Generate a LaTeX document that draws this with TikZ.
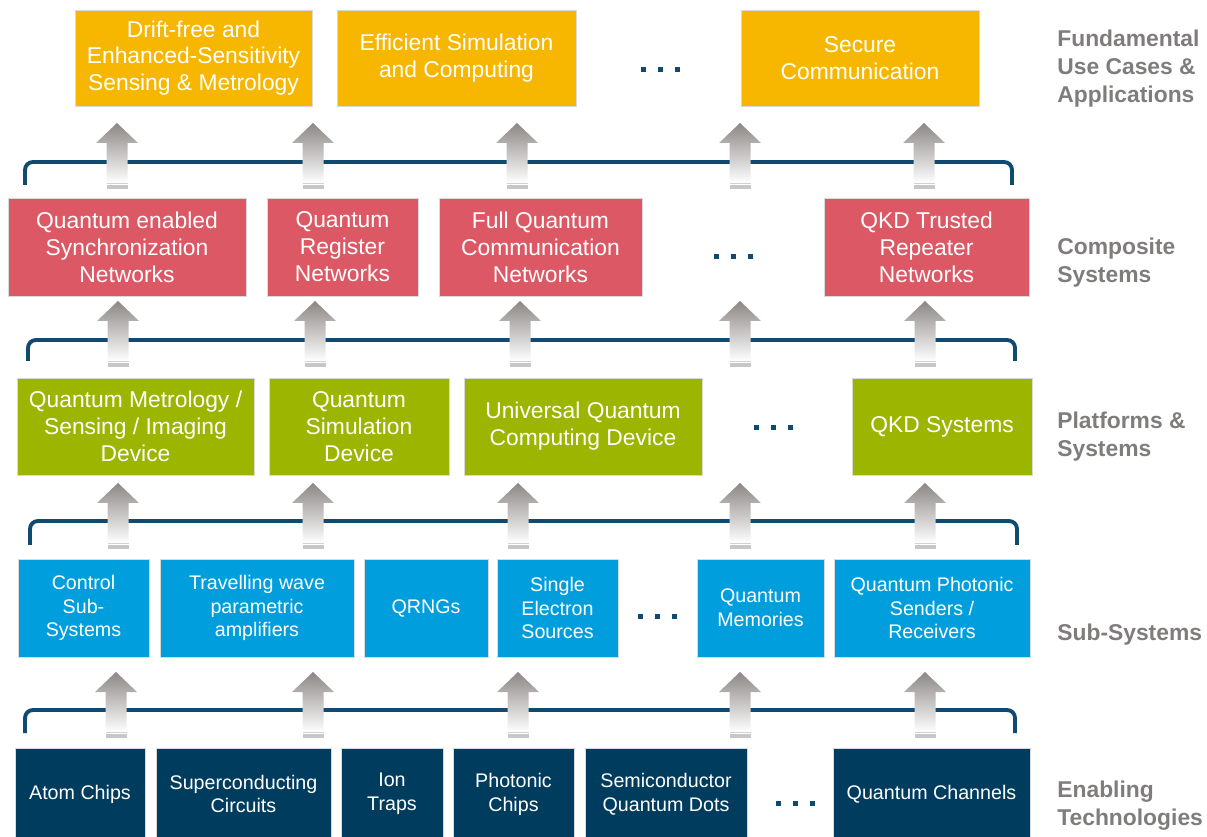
\documentclass[tikz,border=0pt]{standalone}
\usepackage{fontspec}
\setmainfont{Liberation Sans}
\usepackage{tikz}

\definecolor{usecaseorange}{RGB}{247,182,0}
\definecolor{compositered}{RGB}{219,88,100}
\definecolor{platformgreen}{RGB}{155,181,0}
\definecolor{subsysblue}{RGB}{0,158,220}
\definecolor{enablingnavy}{RGB}{0,60,94}
\definecolor{bracenavy}{RGB}{16,74,112}
\definecolor{labelgray}{RGB}{128,124,124}
\definecolor{arrowgray}{RGB}{140,135,133}

\tikzset{
	layerbox/.style={rectangle, text=white, align=center, inner sep=0pt, outer sep=0pt, draw=black!15, line width=0.5pt},
	bigtext/.style={font=\fontsize{13}{15.3}\selectfont},
	smalltext/.style={font=\fontsize{11.2}{13.6}\selectfont},
	usecase/.style={layerbox, bigtext, fill=usecaseorange, minimum height=1.92cm},
	composite/.style={layerbox, bigtext, fill=compositered, minimum height=1.96cm},
	platform/.style={layerbox, bigtext, fill=platformgreen, minimum height=1.94cm},
	subsys/.style={layerbox, smalltext, fill=subsysblue, minimum height=1.96cm},
	enabling/.style={layerbox, smalltext, fill=enablingnavy, minimum height=1.84cm},
	layerlabel/.style={anchor=west, align=left, text=labelgray, font=\bfseries\fontsize{13}{15.9}\selectfont, inner sep=0pt},
	layerbrace/.style={draw=bracenavy, line width=2.2pt, rounded corners=4.5pt},
	arrowshade/.style={top color=arrowgray, middle color=black!8, bottom color=white}
}

% block arrow, #1 = x centre, #2 = top of head
\newcommand{\liftarrow}[2]{%
	\begin{scope}[shift={(#1,#2)}]
		\shade[arrowshade] (0,0) -- (21,20) -- (10.5,20) -- (10.5,60) -- (-10.5,60) -- (-10.5,20) -- (-21,20) -- cycle;
		\draw[black!18, line width=0.4pt] (-10.5,60.5) -- (10.5,60.5);
		\fill[black!22] (-10.5,62) rectangle (10.5,66);
	\end{scope}}

% three square dots
\newcommand{\ellipsisdots}[2]{%
	\foreach \dx in {-17,0,17}
		\fill[bracenavy] ({#1+\dx-2.5},{#2-2.5}) rectangle ++(5,5);}

\begin{document}
\begin{tikzpicture}[x=0.02cm, y=-0.02cm]
	\useasboundingbox (0,0) rectangle (1207,837);

	\draw[layerbrace] (25,185) -- (25,162) -- (1012,162) -- (1012,185);
	\draw[layerbrace] (28,361) -- (28,340) -- (1015,340) -- (1015,361);
	\draw[layerbrace] (30,545) -- (30,521) -- (1017,521) -- (1017,545);
	\draw[layerbrace] (25,733) -- (25,710) -- (1015,710) -- (1015,733);

	\foreach \ax in {117,313,517,740,924} \liftarrow{\ax}{123};
	\foreach \ax in {118,315,520,740,925} \liftarrow{\ax}{301};
	\foreach \ax in {118,313,518,740,925} \liftarrow{\ax}{483};
	\foreach \ax in {116,313,518,740,925} \liftarrow{\ax}{672};

	\node[usecase, minimum width=4.74cm] (drift) at (193.5,58) {Drift-free and\\Enhanced-Sensitivity\\Sensing \& Metrology};
	\node[usecase, minimum width=4.78cm] (simcomp) at (456.5,58) {Efficient Simulation\\and Computing};
	\node[usecase, minimum width=4.76cm] (securecom) at (860,58) {Secure\\Communication};
	\ellipsisdots{660}{70}

	\node[composite, minimum width=4.76cm] (syncnet) at (127,247) {Quantum enabled\\Synchronization\\Networks};
	\node[composite, minimum width=3.02cm] (regnet) at (342.5,247) {Quantum\\Register\\Networks};
	\node[composite, minimum width=4.06cm] (comnet) at (540.5,247) {Full Quantum\\Communication\\Networks};
	\node[composite, minimum width=4.10cm] (qkdnet) at (926.5,247) {QKD Trusted\\Repeater\\Networks};
	\ellipsisdots{733}{257}

	\node[platform, minimum width=4.74cm] (metdev) at (135.5,426.5) {Quantum Metrology /\\Sensing / Imaging\\Device};
	\node[platform, minimum width=3.6cm] (simdev) at (359,426.5) {Quantum\\Simulation\\Device};
	\node[platform, minimum width=4.76cm] (compdev) at (583,426.5) {Universal Quantum\\Computing Device};
	\node[platform, minimum width=3.6cm] (qkdsys) at (942,426.5) {QKD Systems};
	\ellipsisdots{773}{428}

	\node[subsys, minimum width=2.62cm] (control) at (83.5,608) {Control\\Sub-\\Systems};
	\node[subsys, minimum width=3.88cm] (twpa) at (257,608) {Travelling wave\\parametric\\amplifiers};
	\node[subsys, minimum width=2.48cm] (qrng) at (426,608) {QRNGs};
	\node[subsys, minimum width=2.42cm] (electron) at (557.5,608) {Single\\Electron\\Sources};
	\node[subsys, minimum width=2.54cm] (memory) at (760.5,608) {Quantum\\Memories};
	\node[subsys, minimum width=3.92cm] (photonic) at (932,608) {Quantum Photonic\\Senders /\\Receivers};
	\ellipsisdots{657}{616}

	\node[enabling, minimum width=2.6cm] (atom) at (80,794) {Atom Chips};
	\node[enabling, minimum width=3.5cm] (supercond) at (243.5,794) {Superconducting\\Circuits};
	\node[enabling, minimum width=2.04cm] (iontrap) at (392,794) {Ion\\Traps};
	\node[enabling, minimum width=2.42cm] (photchip) at (513.5,794) {Photonic\\Chips};
	\node[enabling, minimum width=3.24cm] (qdots) at (666,794) {Semiconductor\\Quantum Dots};
	\node[enabling, minimum width=3.94cm] (channel) at (931.5,794) {Quantum Channels};
	\ellipsisdots{795}{803}

	\node[layerlabel] (lbluse) at (1057,69) {Fundamental\\Use Cases \&\\Applications};
	\node[layerlabel] (lblcomp) at (1057,263) {Composite\\Systems};
	\node[layerlabel] (lblplat) at (1057,436.5) {Platforms \&\\Systems};
	\node[layerlabel] (lblsub) at (1057,635) {Sub-Systems};
	\node[layerlabel] (lblenab) at (1057,806) {Enabling\\Technologies};
\end{tikzpicture}
\end{document}
